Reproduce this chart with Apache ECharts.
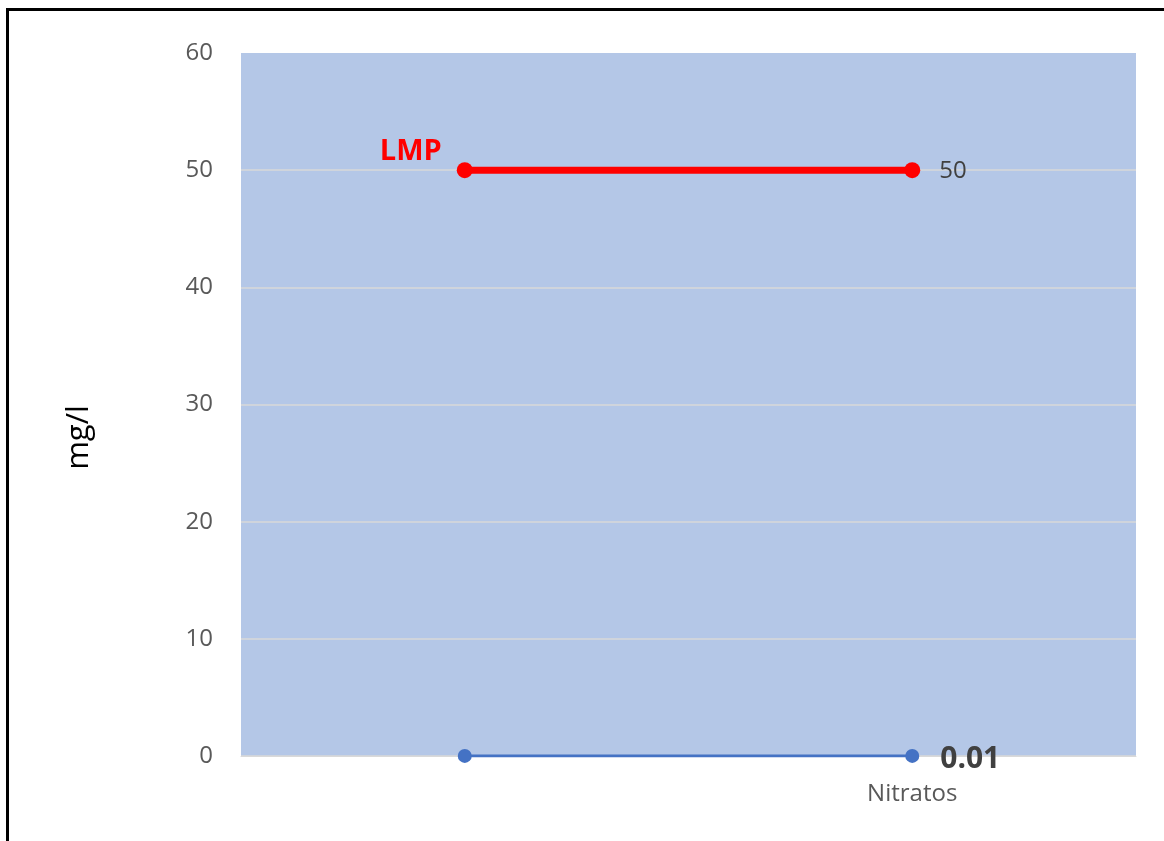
<!DOCTYPE html>
<html><head><meta charset="utf-8">
<script src="https://cdn.jsdelivr.net/npm/echarts@6/dist/echarts.min.js"></script>
<style>html,body{margin:0;padding:0;background:#fff;}#c{width:1164px;height:841px;}</style>
</head><body><div id="c"></div>
<script>
const categories = ['', 'Nitratos'];
const lmpValues = [50, 50];
const nitratosValues = [0.01, 0.01];
const yTicks = [0, 10, 20, 30, 40, 50, 60];

const font = "'Open Sans', 'Liberation Sans', sans-serif";
const chart = echarts.init(document.getElementById('c'), null, {renderer: 'canvas'});
const yMax = yTicks[yTicks.length - 1];
chart.setOption({
  backgroundColor: '#fff',
  animation: false,
  graphic: [{
    type: 'rect', shape: {x: 7.5, y: 9.5, width: 1300, height: 1000},
    style: {fill: 'none', stroke: '#000', lineWidth: 3}, z: 100
  }],
  grid: {left: 241, right: 28, top: 53, bottom: 85, show: true, backgroundColor: '#B4C7E7', borderWidth: 0},
  xAxis: {
    type: 'category', data: categories, boundaryGap: true,
    axisLine: {show: true, lineStyle: {color: '#D9D9D9', width: 1}},
    axisTick: {show: false},
    axisLabel: {color: '#595959', fontSize: 24, fontFamily: font, margin: 26, interval: 0},
    splitLine: {show: false}
  },
  yAxis: {
    type: 'value', min: yTicks[0], max: yMax, interval: 10,
    name: 'mg/l', nameLocation: 'middle', nameRotate: 90, nameGap: 146,
    nameTextStyle: {color: '#000', fontSize: 31, fontFamily: font, padding: [0, 66, 0, 0]},
    axisLine: {show: false}, axisTick: {show: false},
    axisLabel: {color: '#595959', fontSize: 24, fontFamily: font, margin: 28},
    splitLine: {show: true, lineStyle: {color: yTicks.map(t => t === yMax ? 'rgba(0,0,0,0)' : '#D9D9D9'), width: 1.5}}
  },
  series: [{
    name: 'LMP', type: 'line',
    data: lmpValues.map((v, i) => ({
      value: v,
      label: i === 0
        ? {show: true, formatter: 'LMP', position: 'left', distance: 15, offset: [0, -18], color: '#FF0000', fontWeight: 'bold', fontSize: 29, fontFamily: font}
        : {show: true, formatter: '{c}', position: 'right', distance: 19, offset: [0, 1], color: '#404040', fontSize: 24, fontFamily: font}
    })),
    symbol: 'circle', symbolSize: 16,
    lineStyle: {color: '#FF0000', width: 7},
    itemStyle: {color: '#FF0000'}, z: 3
  }, {
    name: 'Nitratos', type: 'line',
    data: nitratosValues.map((v, i) => ({
      value: v,
      label: i === 1
        ? {show: true, formatter: '{c}', position: 'right', distance: 21, offset: [0, 4], color: '#404040', fontWeight: 'bold', fontSize: 30, fontFamily: font}
        : {show: false}
    })),
    symbol: 'circle', symbolSize: 14,
    lineStyle: {color: '#4472C4', width: 3},
    itemStyle: {color: '#4472C4'}, z: 3
  }]
});
</script></body></html>
